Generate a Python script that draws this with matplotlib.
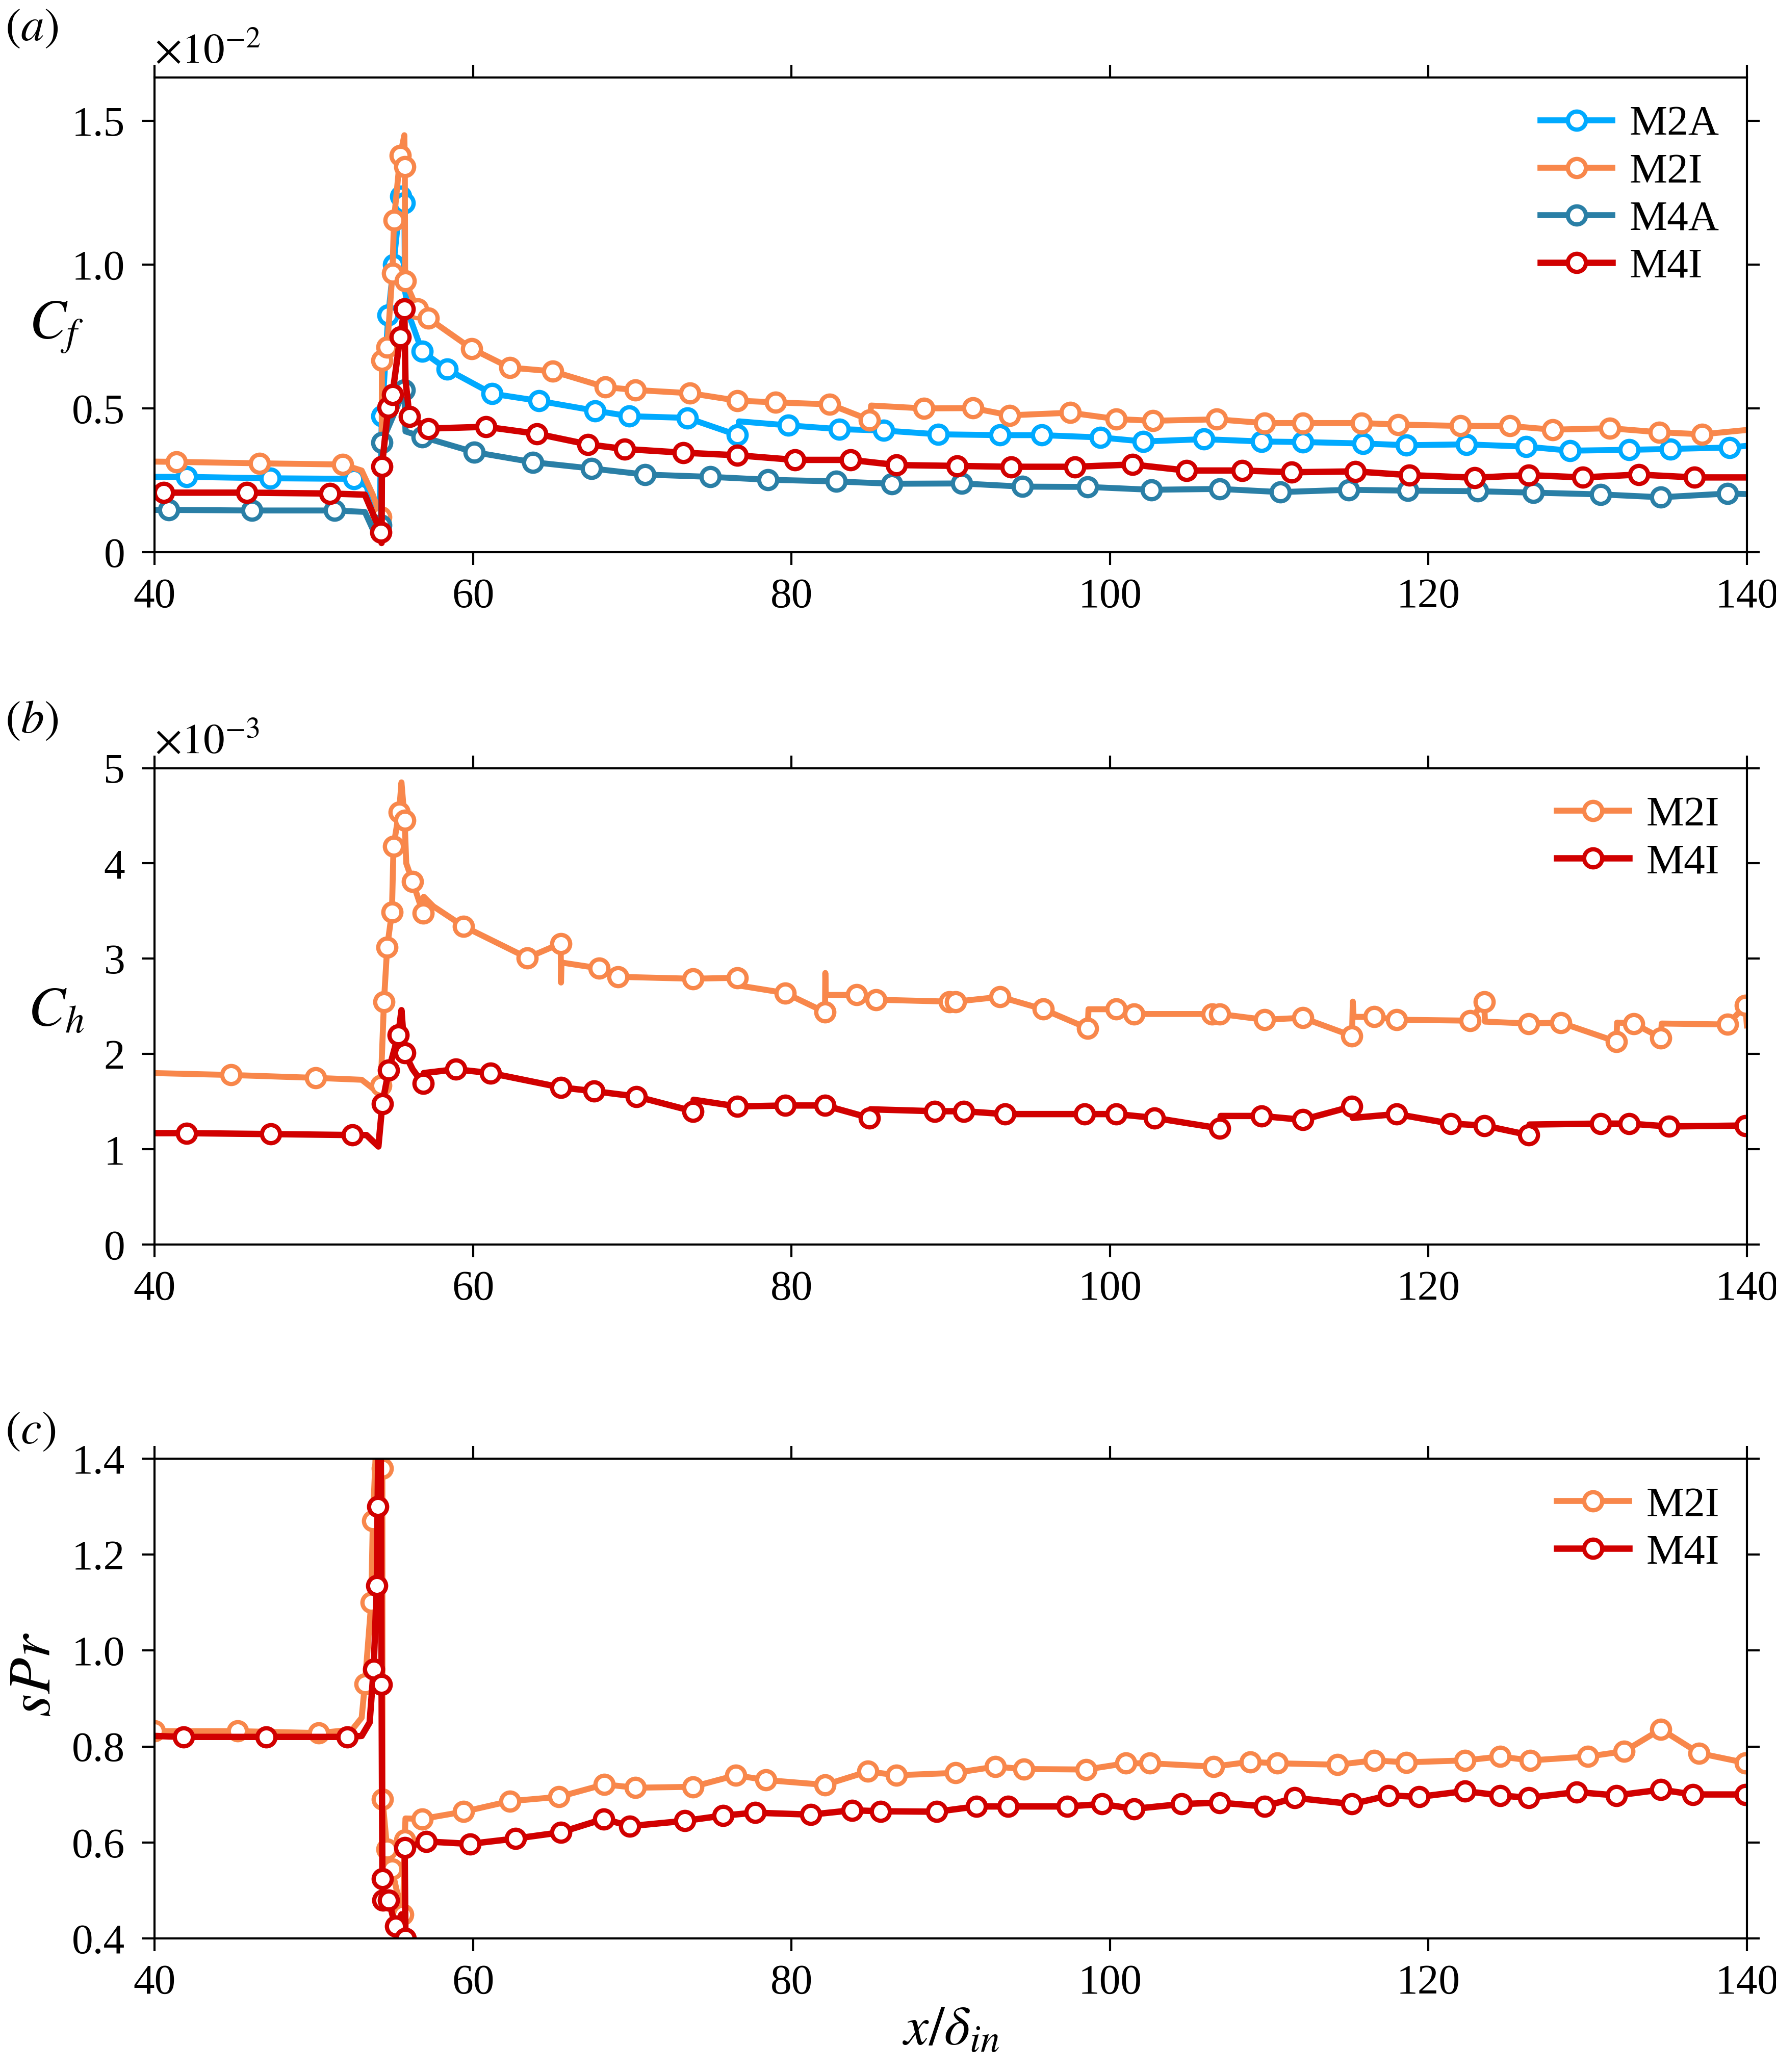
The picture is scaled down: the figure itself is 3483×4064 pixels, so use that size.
import matplotlib
matplotlib.use("Agg")
import matplotlib.pyplot as plt
from matplotlib.ticker import FuncFormatter

plt.rcParams["font.family"] = ["Liberation Serif", "DejaVu Serif"]
plt.rcParams["mathtext.fontset"] = "stix"
plt.rcParams["font.size"] = 20

# colours
c_m2a = "#00AAFF"
c_m2i = "#F8874B"
c_m4a = "#2A7FA6"
c_m4i = "#D10000"

# ---------------- (a) Cf  (units of 1e-2) ----------------
cf_m2a_x = [40, 42.0, 47.25, 52.5, 53.3, 54.1, 54.27, 54.67, 55.0, 55.45, 55.68, 55.72, 56.0,
            56.8, 58.36, 61.2, 64.15, 67.67, 69.8, 73.45, 76.6, 76.7, 79.8, 83.0, 85.8, 89.2,
            93.1, 95.7, 99.4, 102.1, 105.9, 109.5, 112.1, 115.9, 118.6, 122.4, 126.15, 128.9,
            132.6, 135.2, 138.9, 140]
cf_m2a_y = [0.262, 0.262, 0.257, 0.255, 0.23, 0.09, 0.473, 0.824, 1.0, 1.238, 1.214, 0.909, 0.82,
            0.698, 0.636, 0.551, 0.526, 0.492, 0.473, 0.467, 0.407, 0.455, 0.441, 0.428, 0.423, 0.41,
            0.407, 0.407, 0.399, 0.385, 0.393, 0.385, 0.383, 0.378, 0.372, 0.375, 0.367, 0.353,
            0.356, 0.359, 0.364, 0.37]
cf_m2a_nomark = [40, 53.3, 54.1, 55.72, 56.0, 76.7, 140]

cf_m2i_x = [40, 41.37, 46.6, 51.8, 53.0, 53.7, 54.2, 54.25, 54.27, 54.6, 54.93, 55.03, 55.42,
            55.68, 55.71, 55.73, 56.5, 57.2, 59.9, 62.3, 65.0, 68.3, 70.2, 73.6, 76.6, 79.0,
            82.4, 84.9, 85.0, 88.3, 91.4, 93.7, 97.5, 100.4, 102.7, 106.7, 109.7, 112.1, 115.8,
            118.1, 122.0, 125.1, 127.8, 131.4, 134.5, 137.2, 140]
cf_m2i_y = [0.315, 0.314, 0.309, 0.305, 0.284, 0.2, 0.123, 0.086, 0.666, 0.713, 0.97, 1.155, 1.38,
            1.45, 1.34, 0.943, 0.845, 0.813, 0.708, 0.642, 0.629, 0.574, 0.564, 0.553, 0.527, 0.521,
            0.514, 0.46, 0.51, 0.50, 0.501, 0.476, 0.485, 0.463, 0.457, 0.462, 0.449, 0.449, 0.449,
            0.444, 0.439, 0.439, 0.426, 0.431, 0.417, 0.41, 0.425]
cf_m2i_nomark = [40, 53.0, 53.7, 54.25, 55.68, 85.0, 140]

cf_m4a_x = [40, 40.9, 46.1, 51.3, 53.2, 54.0, 54.2, 54.27, 55.68, 55.75, 56.8, 60.06, 63.75,
            67.45, 70.8, 74.9, 78.5, 82.8, 86.3, 90.7, 94.5, 98.6, 102.6, 106.9, 110.7, 115.0,
            118.7, 123.1, 126.6, 130.8, 134.6, 138.8, 140]
cf_m4a_y = [0.147, 0.147, 0.145, 0.145, 0.14, 0.043, 0.094, 0.382, 0.564, 0.42, 0.401, 0.348, 0.313,
            0.291, 0.270, 0.262, 0.252, 0.246, 0.238, 0.239, 0.228, 0.227, 0.217, 0.22, 0.209, 0.217,
            0.214, 0.212, 0.207, 0.201, 0.191, 0.204, 0.202]
cf_m4a_nomark = [40, 53.2, 54.0, 55.75, 140]

cf_m4i_x = [40, 40.55, 45.8, 51.0, 53.2, 54.2, 54.25, 54.27, 54.67, 54.93, 55.42, 55.68, 55.75,
            56.0, 57.2, 60.8, 64.0, 67.2, 69.5, 73.2, 76.6, 80.2, 83.7, 86.6, 90.4, 93.8, 97.8,
            101.4, 104.8, 108.3, 111.4, 115.4, 118.8, 122.9, 126.3, 129.7, 133.2, 136.7, 140]
cf_m4i_y = [0.207, 0.207, 0.207, 0.204, 0.2, 0.07, 0.032, 0.298, 0.503, 0.548, 0.749, 0.845, 0.6,
            0.471, 0.43, 0.436, 0.412, 0.375, 0.359, 0.346, 0.337, 0.321, 0.321, 0.303, 0.300, 0.297,
            0.297, 0.305, 0.284, 0.284, 0.278, 0.281, 0.268, 0.259, 0.268, 0.26, 0.27, 0.26, 0.26]
cf_m4i_nomark = [40, 53.2, 54.25, 55.75, 140]

# ---------------- (b) Ch  (units of 1e-3) ----------------
ch_m2i_x = [40, 44.8, 50.1, 53.0, 54.0, 54.2, 54.4, 54.6, 54.9, 55.0, 55.35, 55.5, 55.7, 55.8,
            56.2, 56.85, 56.9, 57.5, 59.4, 63.4, 65.5, 65.52, 65.55, 67.9, 69.1, 73.8, 76.6,
            76.65, 79.6, 82.1, 82.12, 82.15, 84.1, 85.3, 89.9, 90.3, 93.1, 95.8, 98.6, 98.65,
            100.4, 101.5, 106.4, 106.9, 109.7, 112.1, 115.2, 115.25, 115.3, 116.6, 118.0, 122.6,
            123.5, 123.55, 126.3, 128.3, 131.8, 131.85, 132.9, 134.6, 134.65, 138.8, 139.9, 140]
ch_m2i_y = [1.80, 1.78, 1.75, 1.73, 1.60, 1.67, 2.55, 3.12, 3.49, 4.18, 4.54, 4.85, 4.45, 4.0,
            3.81, 3.48, 3.65, 3.55, 3.34, 3.01, 3.16, 2.75, 2.96, 2.90, 2.81, 2.79, 2.80,
            2.72, 2.64, 2.44, 2.85, 2.62, 2.62, 2.57, 2.55, 2.55, 2.60, 2.47, 2.27, 2.47,
            2.47, 2.42, 2.42, 2.42, 2.36, 2.38, 2.19, 2.55, 2.39, 2.39, 2.36, 2.35,
            2.55, 2.34, 2.32, 2.33, 2.13, 2.33, 2.32, 2.17, 2.32, 2.31, 2.51, 2.30]
ch_m2i_nomark = [40, 53.0, 54.0, 55.5, 55.8, 56.9, 57.5, 65.52, 65.55, 76.65, 82.12, 82.15,
                 98.65, 115.25, 115.3, 123.55, 131.85, 134.65, 140]

ch_m4i_x = [40, 42.0, 47.3, 52.4, 53.3, 54.05, 54.3, 54.7, 55.3, 55.5, 55.7, 56.2, 56.85, 56.9,
            58.9, 61.1, 65.5, 67.6, 70.25, 73.8, 73.85, 76.6, 79.6, 82.1, 84.9, 84.95, 89.0,
            90.8, 93.4, 98.4, 100.4, 102.8, 106.9, 106.95, 109.5, 112.1, 115.2, 115.25, 118.0,
            121.4, 123.5, 126.3, 126.35, 130.8, 132.6, 135.1, 139.9, 140]
ch_m4i_y = [1.17, 1.17, 1.16, 1.15, 1.15, 1.03, 1.48, 1.83, 2.20, 2.46, 2.01, 1.84, 1.69, 1.80,
            1.84, 1.80, 1.65, 1.61, 1.555, 1.40, 1.52, 1.45, 1.46, 1.46, 1.33, 1.42, 1.40,
            1.40, 1.37, 1.37, 1.37, 1.33, 1.22, 1.35, 1.35, 1.31, 1.45, 1.33, 1.37,
            1.27, 1.25, 1.15, 1.26, 1.27, 1.27, 1.24, 1.25, 1.25]
ch_m4i_nomark = [40, 53.3, 54.05, 55.5, 56.2, 56.9, 73.85, 84.95, 106.95, 115.25, 126.35, 140]

# ---------------- (c) sPr ----------------
spr_m2i_x = [40, 45.2, 50.3, 52.4, 53.0, 53.2, 53.6, 53.7, 54.0, 54.2, 54.3, 54.31, 54.6, 54.9,
             55.2, 55.6, 55.7, 55.75, 56.8, 59.4, 62.3, 65.4, 68.25, 70.2, 73.8, 76.5, 78.4,
             82.1, 84.8, 86.6, 90.3, 92.8, 94.6, 98.5, 101.0, 102.5, 106.5, 108.8, 110.5, 114.3,
             116.6, 118.6, 122.3, 124.5, 126.4, 130.0, 132.3, 134.6, 137.0, 139.9, 140]
spr_m2i_y = [0.832, 0.832, 0.828, 0.835, 0.86, 0.93, 1.10, 1.27, 1.5, 1.6, 1.38, 0.69, 0.586, 0.544,
             0.50, 0.45, 0.605, 0.65, 0.649, 0.664, 0.686, 0.695, 0.721, 0.714, 0.716, 0.74, 0.73,
             0.72, 0.748, 0.74, 0.745, 0.758, 0.753, 0.752, 0.765, 0.765, 0.758, 0.768, 0.765, 0.762,
             0.771, 0.767, 0.771, 0.779, 0.771, 0.779, 0.79, 0.836, 0.786, 0.766, 0.78]
spr_m2i_nomark = [52.4, 53.0, 54.0, 54.2, 55.2, 55.75, 140]

spr_m4i_x = [40, 41.8, 47.0, 52.1, 53.0, 53.5, 53.75, 53.95, 54.0, 54.1, 54.2, 54.25, 54.3, 54.35,
             54.7, 55.0, 55.15, 55.5, 55.75, 55.7, 57.05, 59.8, 62.65, 65.5, 68.2, 69.85, 73.3,
             75.7, 77.7, 81.2, 83.8, 85.6, 89.1, 91.6, 93.6, 97.3, 99.5, 101.5, 104.5, 106.9,
             109.7, 111.6, 115.2, 117.5, 119.4, 122.3, 124.5, 126.3, 129.3, 131.8, 134.6, 136.6,
             139.9, 140]
spr_m4i_y = [0.822, 0.82, 0.82, 0.82, 0.822, 0.85, 0.961, 1.135, 1.30, 1.6, 1.45, 0.929, 0.524, 0.48,
             0.48, 0.44, 0.425, 0.45, 0.40, 0.589, 0.602, 0.597, 0.608, 0.621, 0.649, 0.634, 0.645,
             0.656, 0.662, 0.658, 0.667, 0.665, 0.664, 0.675, 0.675, 0.675, 0.68, 0.67, 0.68, 0.683,
             0.675, 0.693, 0.68, 0.698, 0.695, 0.707, 0.698, 0.693, 0.705, 0.698, 0.71, 0.70,
             0.70, 0.70]
spr_m4i_nomark = [40, 53.0, 53.5, 54.1, 54.2, 55.0, 55.5, 140]


def marks(xs, skip):
    return [i for i, v in enumerate(xs) if v not in skip]


def curve(ax, xs, ys, skip, color, label, lw=2.8):
    ax.plot(xs, ys, color=color, lw=lw, marker="o", ms=8.5, mfc="white",
            mec=color, mew=2.0, markevery=marks(xs, skip), label=label)


def style(ax, ylim, yticks, fmt):
    ax.set_xlim(40, 140)
    ax.set_ylim(*ylim)
    ax.set_xticks([40, 60, 80, 100, 120, 140])
    ax.set_yticks(yticks)
    ax.yaxis.set_major_formatter(FuncFormatter(fmt))
    ax.tick_params(direction="out", length=6, width=1.0, top=True, right=True, labelsize=20)
    ax.tick_params(axis="y", pad=8)
    ax.tick_params(axis="x", pad=6)
    for s in ax.spines.values():
        s.set_linewidth(1.0)
    ax.legend(loc="upper right", frameon=False, fontsize=20, handlelength=1.7,
              handletextpad=0.4, labelspacing=0.2, borderaxespad=0.25)


def f_half(v, p):
    return "0" if abs(v) < 1e-9 else f"{v:.1f}"


def f_int(v, p):
    return f"{v:.0f}"


def f_one(v, p):
    return f"{v:.1f}"


fig = plt.figure(figsize=(3483 / 300, 4064 / 300), dpi=300)

ax1 = fig.add_axes([0.0871, 0.7335, 0.8965, 0.229])
curve(ax1, cf_m2a_x, cf_m2a_y, cf_m2a_nomark, c_m2a, "M2A")
curve(ax1, cf_m2i_x, cf_m2i_y, cf_m2i_nomark, c_m2i, "M2I")
curve(ax1, cf_m4a_x, cf_m4a_y, cf_m4a_nomark, c_m4a, "M4A")
curve(ax1, cf_m4i_x, cf_m4i_y, cf_m4i_nomark, c_m4i, "M4I", lw=3.0)
style(ax1, (0, 1.65), [0, 0.5, 1.0, 1.5], f_half)
ax1.set_ylabel(r"$C_f$", fontsize=26, rotation=0)
ax1.yaxis.set_label_coords(-0.062, 0.415)
ax1.text(0.0, 1.012, r"$\times10^{-2}$", transform=ax1.transAxes, fontsize=20,
         ha="left", va="bottom")

ax2 = fig.add_axes([0.0871, 0.3993, 0.8965, 0.230])
curve(ax2, ch_m2i_x, ch_m2i_y, ch_m2i_nomark, c_m2i, "M2I")
curve(ax2, ch_m4i_x, ch_m4i_y, ch_m4i_nomark, c_m4i, "M4I", lw=3.0)
style(ax2, (0, 5), [0, 1, 2, 3, 4, 5], f_int)
ax2.set_ylabel(r"$C_h$", fontsize=26, rotation=0)
ax2.yaxis.set_label_coords(-0.062, 0.435)
ax2.text(0.0, 1.012, r"$\times10^{-3}$", transform=ax2.transAxes, fontsize=20,
         ha="left", va="bottom")

ax3 = fig.add_axes([0.0871, 0.0645, 0.8965, 0.2315])
curve(ax3, spr_m2i_x, spr_m2i_y, spr_m2i_nomark, c_m2i, "M2I")
curve(ax3, spr_m4i_x, spr_m4i_y, spr_m4i_nomark, c_m4i, "M4I", lw=3.0)
style(ax3, (0.4, 1.4), [0.4, 0.6, 0.8, 1.0, 1.2, 1.4], f_one)
ax3.set_ylabel(r"$sPr$", fontsize=28)
ax3.yaxis.set_label_coords(-0.058, 0.55)
ax3.set_xlabel(r"$x/\delta_{in}$", fontsize=26, labelpad=2)

fig.text(0.003, 0.986, r"$(a)$", fontsize=22, ha="left", va="center")
fig.text(0.003, 0.652, r"$(b)$", fontsize=22, ha="left", va="center")
fig.text(0.003, 0.309, r"$(c)$", fontsize=22, ha="left", va="center")

fig.savefig("out.png", dpi=300)
